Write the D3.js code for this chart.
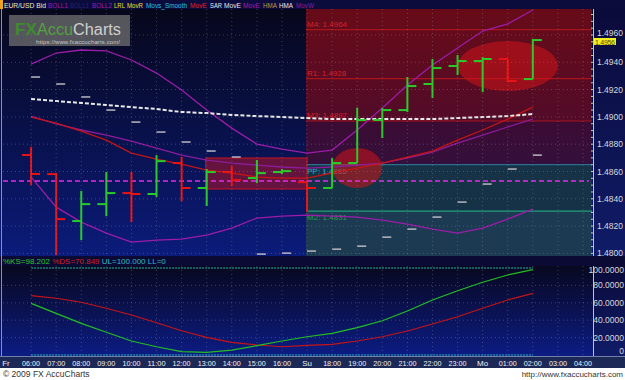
<!DOCTYPE html>
<html>
<head>
<meta charset="utf-8">
<script src="https://d3js.org/d3.v7.min.js"></script>
<style>
  body { margin: 0; background: #fff; }
  svg { display: block; font-family: "Liberation Sans", Arial, sans-serif; }
</style>
</head>
<body>
<svg id="chart" width="625" height="380"></svg>
<script>
// hourly slots on the time axis
var timeLabels = ["Fr","06:00","07:00","08:00","09:00","10:00","11:00","12:00","13:00","14:00","15:00","16:00",
                  "Su","18:00","19:00","20:00","21:00","22:00","23:00","Mo","01:00","02:00","03:00","04:00"];
var firstBar = 1; // first bar sits on 06:00

// EUR/USD hourly bars
var opens  = [1.48721,1.48581,1.48237,1.48361,1.48442,1.48435,1.48662,1.48479,1.48596,1.48552,1.48596,
              1.48522,1.48479,1.48662,1.48977,1.49050,1.49241,1.49373,1.49409,1.49424,1.49277];
var highs  = [1.48780,1.48589,1.48457,1.48596,1.48596,1.48720,1.48706,1.48618,1.48640,1.48684,1.48618,
              1.48522,1.48698,1.49068,1.49065,1.49292,1.49424,1.49453,1.49439,1.49424,1.49571];
var lows   = [1.48501,1.47987,1.48097,1.48273,1.48229,1.48413,1.48383,1.48347,1.48493,1.48515,1.48581,
              1.48303,1.48479,1.48662,1.48845,1.49036,1.49138,1.49307,1.49182,1.49255,1.49277];
var closes = [1.48582,1.48251,1.48361,1.48442,1.48435,1.48676,1.48479,1.48596,1.48537,1.48588,1.48603,
              1.48479,1.48662,1.48977,1.49050,1.49226,1.49358,1.49409,1.49424,1.49263,1.49563];

// indicators
var bollUpper = [1.49387,1.49468,1.49490,1.49483,1.49417,1.49321,1.49197,1.49050,1.48918,1.48801,1.48764,
                 1.48735,1.48757,1.48904,1.49065,1.49233,1.49380,1.49505,1.49629,1.49681,1.49783];
var bollMid   = [1.49006,1.48948,1.48904,1.48867,1.48823,1.48772,1.48720,1.48684,1.48662,1.48647,1.48633,
                 1.48625,1.48633,1.48647,1.48662,1.48698,1.48742,1.48808,1.48867,1.48926,1.48984];
var bollLower = [1.48559,1.48339,1.48229,1.48149,1.48083,1.48097,1.48105,1.48134,1.48185,1.48259,1.48273,
                 1.48281,1.48273,1.48266,1.48244,1.48215,1.48178,1.48149,1.48185,1.48251,1.48325];
var movE      = [1.48999,1.48955,1.48896,1.48830,1.48735,1.48691,1.48654,1.48610,1.48589,1.48559,1.48552,
                 1.48552,1.48589,1.48625,1.48662,1.48706,1.48750,1.48830,1.48904,1.48984,1.49072];
var movSlow   = [1.49131,1.49116,1.49102,1.49087,1.49072,1.49058,1.49036,1.49028,1.49014,1.49006,1.48999,
                 1.48992,1.48984,1.48984,1.48984,1.48984,1.48984,1.48992,1.48999,1.49006,1.49021];
var sar       = [1.49292,1.49241,1.49146,1.49050,1.48962,1.48889,1.48816,1.48750,1.48706,1.47995,1.48002,
                 1.48017,1.48031,1.48053,1.48119,1.48178,1.48266,1.48376,1.48508,1.48618,1.48720];
var flatLevel = 1.4853;

// pivot levels
var pivotNames  = ["M4","R1","M3","PP","M2"];
var pivotValues = [1.4964,1.4928,1.4897,1.4865,1.4831];
var pivotFrom = 12; // pivots start on Sunday

// highlighted areas
var boxSlots = [8, 12], boxPrices = [1.48472, 1.48699];
var ellipseSlots = [14, 20], ellipsePrices = [1.48626, 1.49373];

// stochastic
var pK = [59.4,47.9,36.4,26.1,16.1,9.5,3.8,3.1,5.7,10.7,16.1,21.0,24.9,31.4,39.4,50.6,63.2,73.9,83.6,92.0,98.202];
var pD = [68.2,65.2,60.6,53.7,46.0,37.1,27.9,20.3,14.6,11.5,9.5,11.1,12.3,16.1,21.0,27.6,35.6,44.0,53.7,63.2,70.849];

var priceTicks = [1.4800,1.4820,1.4840,1.4860,1.4880,1.4900,1.4920,1.4940,1.4960];
var oscTicks = [0,20,40,60,80,100];
var lastPrice = "1.4956";

// layout
var L = 3, R = 592, mainTop = 9, mainBot = 256, oscTop = 266, oscBot = 356, axisBot = 368;

var svg = d3.select("#chart");
var defs = svg.append("defs");

function vgrad(id, stops) {
    var g = defs.append("linearGradient").attr("id", id)
        .attr("x1", 0).attr("y1", 0).attr("x2", 0).attr("y2", 1);
    stops.forEach(function(s) { g.append("stop").attr("offset", s[0]).attr("stop-color", s[1]); });
}
vgrad("bgMain", [[0, "#07071b"], [1, "#0b1b7a"]]);
vgrad("bgOsc", [[0, "#08081f"], [1, "#0c1c84"]]);
vgrad("bgAxis", [[0, "#0b0b3a"], [1, "#101c68"]]);
vgrad("redZone", [[0, "#680b18"], [1, "#520b28"]]);
vgrad("purpleZone", [[0, "#3c0b32"], [1, "#34103c"]]);

defs.append("clipPath").attr("id", "clipMain").append("rect")
    .attr("x", L).attr("y", mainTop).attr("width", R - L).attr("height", mainBot - mainTop);

// scales
var x = d3.scalePoint().domain(d3.range(timeLabels.length)).range([6, 583]);
var y = d3.scaleLinear().domain([1.4800, 1.4960]).range([253.4, 35]);
var yo = d3.scaleLinear().domain([0, 100]).range([355, 268]);
var bx = function(i) { return x(i + firstBar); };

// backgrounds
svg.append("rect").attr("width", 625).attr("height", 380).attr("fill", "#fff");
svg.append("rect").attr("width", 625).attr("height", mainTop).attr("fill", "#0b0b3c");
svg.append("rect").attr("x", 0).attr("y", mainTop).attr("width", R + 1).attr("height", mainBot - mainTop).attr("fill", "url(#bgMain)");
svg.append("rect").attr("x", R + 1).attr("y", mainTop).attr("width", 625 - R).attr("height", mainBot - mainTop).attr("fill", "url(#bgAxis)");
svg.append("rect").attr("x", 0).attr("y", mainBot).attr("width", 625).attr("height", oscTop - mainBot).attr("fill", "#0a0a34");
svg.append("rect").attr("x", 0).attr("y", oscTop).attr("width", R + 1).attr("height", oscBot - oscTop).attr("fill", "url(#bgOsc)");
svg.append("rect").attr("x", R + 1).attr("y", oscTop).attr("width", 625 - R).attr("height", oscBot - oscTop).attr("fill", "url(#bgAxis)");
svg.append("rect").attr("x", 0).attr("y", oscBot).attr("width", 625).attr("height", axisBot - oscBot).attr("fill", "#1c2856");
svg.append("rect").attr("x", 0).attr("y", 0).attr("width", 3).attr("height", mainTop).attr("fill", "#f0a020");

var main = svg.append("g").attr("clip-path", "url(#clipMain)");

// pivot zones
var px0 = x(pivotFrom) - 1;
var zones = [
    [mainTop, y(pivotValues[2]), "url(#redZone)"],
    [y(pivotValues[2]), y(pivotValues[3]), "url(#purpleZone)"],
    [y(pivotValues[3]), y(pivotValues[4]), "#153246"],
    [y(pivotValues[4]), mainBot, "#1c3a52"]
];
main.selectAll(".zone").data(zones).enter().append("rect")
    .attr("x", px0).attr("y", function(d) { return d[0]; })
    .attr("width", R - px0).attr("height", function(d) { return d[1] - d[0]; })
    .attr("fill", function(d) { return d[2]; });

// grid
var grid = svg.append("g").attr("stroke", "#8a8aa0").attr("stroke-opacity", 0.4)
    .attr("stroke-dasharray", "1,3").attr("stroke-width", 1);
d3.range(1, timeLabels.length).forEach(function(i) {
    grid.append("line").attr("x1", x(i)).attr("x2", x(i)).attr("y1", mainTop).attr("y2", mainBot);
    grid.append("line").attr("x1", x(i)).attr("x2", x(i)).attr("y1", oscTop).attr("y2", oscBot);
});
priceTicks.forEach(function(p) {
    grid.append("line").attr("x1", L).attr("x2", R).attr("y1", y(p)).attr("y2", y(p));
});
oscTicks.slice(1, -1).forEach(function(v) {
    grid.append("line").attr("x1", L).attr("x2", R).attr("y1", yo(v)).attr("y2", yo(v));
});

// pivot lines and labels
var pivotColors = ["#a8141e", "#a8141e", "#a8141e", "#2c6e8c", "#1fa07a"];
var labelColors = ["#d8202a", "#d8202a", "#d8202a", "#3aa8c8", "#2a9a50"];
pivotValues.forEach(function(v, i) {
    main.append("line").attr("x1", px0).attr("x2", R).attr("y1", y(v)).attr("y2", y(v))
        .attr("stroke", pivotColors[i]).attr("stroke-width", 1.2);
    var below = i >= 3;
    main.append("text").attr("x", px0 + 1).attr("y", y(v) + (below ? 9 : -3))
        .attr("font-size", 8).attr("fill", labelColors[i])
        .text(pivotNames[i] + ": " + v.toFixed(4));
});

// highlighted areas
main.append("rect")
    .attr("x", x(boxSlots[0]) - 1).attr("y", y(boxPrices[1]))
    .attr("width", x(boxSlots[1]) - x(boxSlots[0]) + 1).attr("height", y(boxPrices[0]) - y(boxPrices[1]))
    .attr("fill", "#b0142a").attr("fill-opacity", 0.55).attr("stroke", "#c8141e").attr("stroke-width", 1);
var eR = [[25, 20], [50, 25]];
ellipseSlots.forEach(function(s, i) {
    main.append("ellipse").attr("cx", x(s)).attr("cy", y(ellipsePrices[i]))
        .attr("rx", eR[i][0]).attr("ry", eR[i][1])
        .attr("fill", "#d01418").attr("fill-opacity", 0.55);
});

// indicator lines
function drawLine(vals, color, width, dash) {
    var p = main.append("path").datum(vals)
        .attr("fill", "none").attr("stroke", color).attr("stroke-width", width)
        .attr("d", d3.line().x(function(d, i) { return bx(i); }).y(function(d) { return y(d); }));
    if (dash) p.attr("stroke-dasharray", dash);
}
drawLine(bollUpper, "#9c1ca8", 1.3);
drawLine(bollMid, "#8c1c9c", 1.3);
drawLine(bollLower, "#9c1ca8", 1.3);
drawLine(movE, "#c41414", 1.3);
drawLine(movSlow, "#e8e8e8", 2, "4,2");

main.append("line").attr("x1", L).attr("x2", R - 3).attr("y1", y(flatLevel)).attr("y2", y(flatLevel))
    .attr("stroke", "#e828e8").attr("stroke-width", 1.5).attr("stroke-dasharray", "5,3");

// SAR marks
main.selectAll(".sar").data(sar).enter().append("line")
    .attr("x1", function(d, i) { return bx(i); }).attr("x2", function(d, i) { return bx(i) + 9; })
    .attr("y1", function(d) { return y(d); }).attr("y2", function(d) { return y(d); })
    .attr("stroke", "#b8b8c0").attr("stroke-width", 1.5);

// OHLC bars
var bars = main.selectAll(".bar").data(opens).enter().append("g")
    .attr("stroke", function(d, i) { return closes[i] >= opens[i] ? "#28cc28" : "#e81414"; })
    .attr("stroke-width", 2);
bars.append("line").attr("x1", function(d, i) { return bx(i); }).attr("x2", function(d, i) { return bx(i); })
    .attr("y1", function(d, i) { return y(highs[i]); }).attr("y2", function(d, i) { return y(lows[i]); });
bars.append("line").attr("x1", function(d, i) { return bx(i) - 9; }).attr("x2", function(d, i) { return bx(i); })
    .attr("y1", function(d) { return y(d); }).attr("y2", function(d) { return y(d); });
bars.append("line").attr("x1", function(d, i) { return bx(i); }).attr("x2", function(d, i) { return bx(i) + 9; })
    .attr("y1", function(d, i) { return y(closes[i]); }).attr("y2", function(d, i) { return y(closes[i]); });

// logo
svg.append("rect").attr("x", 9).attr("y", 15).attr("width", 121).attr("height", 31)
    .attr("fill", "#707070").attr("fill-opacity", 0.75);
svg.append("text").attr("x", 15).attr("y", 35).attr("font-size", 16).attr("font-weight", "bold")
    .attr("fill", "#3f8c2e").attr("textLength", 22).attr("lengthAdjust", "spacingAndGlyphs").text("FX");
svg.append("text").attr("x", 37).attr("y", 35).attr("font-size", 16)
    .attr("fill", "#55a040").attr("textLength", 36).attr("lengthAdjust", "spacingAndGlyphs").text("Accu");
svg.append("text").attr("x", 73).attr("y", 35).attr("font-size", 16)
    .attr("fill", "#cfcfcf").attr("textLength", 48).attr("lengthAdjust", "spacingAndGlyphs").text("Charts");
svg.append("text").attr("x", 36).attr("y", 44).attr("font-size", 6).attr("fill", "#c8c8c8")
    .attr("textLength", 84).text("https://www.fxaccucharts.com/");

// header legend
var legend = [["EUR/USD Bid", "#f0e8b0", 4, 42], ["BOLL1", "#a01ca8", 48, 20], ["BOLL1", "#24246a", 70, 19],
              ["BOLL2", "#a01ca8", 92, 20], ["LRL", "#e8e020", 114, 11], ["MovR", "#e8e020", 127, 16],
              ["Movs_Smooth", "#28c0e8", 146, 41], ["MovE", "#e82020", 190, 17], ["SAR", "#e8e8e8", 210, 12],
              ["MovE", "#e8e8e8", 224, 17], ["MovE", "#a01ca8", 243, 17], ["HMA", "#b0a040", 263, 14],
              ["HMA", "#e8e8e8", 279, 14], ["MovW", "#8a2098", 296, 18]];
legend.forEach(function(d) {
    svg.append("text").attr("x", d[2]).attr("y", 7.5).attr("font-size", 6.4).attr("fill", d[1])
        .attr("textLength", d[3]).attr("lengthAdjust", "spacingAndGlyphs").text(d[0]);
});

// left edge
svg.append("line").attr("x1", 1.5).attr("x2", 1.5).attr("y1", mainTop).attr("y2", oscBot)
    .attr("stroke", "#9090a8").attr("stroke-width", 1);

// right price axis
svg.append("line").attr("x1", R + 1.5).attr("x2", R + 1.5).attr("y1", mainTop).attr("y2", mainBot)
    .attr("stroke", "#c8c8a0");
d3.range(1.4800, 1.4980, 0.0005).forEach(function(p) {
    if (y(p) < mainTop) return;
    svg.append("line").attr("x1", R - 1).attr("x2", R + 1).attr("y1", y(p)).attr("y2", y(p))
        .attr("stroke", "#c8c8a0");
});
svg.selectAll(".ptick").data(priceTicks).enter().append("text")
    .attr("x", 623).attr("y", function(d) { return y(d) + (d === 1.4960 ? 1 : 3); })
    .attr("text-anchor", "end").attr("font-size", 8.5).attr("fill", "#d8d8d8")
    .text(function(d) { return d.toFixed(4); });
svg.append("rect").attr("x", 594).attr("y", 38).attr("width", 22).attr("height", 7).attr("fill", "#f0f020");
svg.append("text").attr("x", 595).attr("y", 44.5).attr("font-size", 7).attr("fill", "#505000")
    .attr("textLength", 20).text(lastPrice);

// stochastic panel
svg.append("text").attr("x", 3).attr("y", 264).attr("font-size", 8)
    .call(function(t) {
        t.append("tspan").attr("fill", "#28c828").text("%KS=" + pK[pK.length - 1].toFixed(3) + " ");
        t.append("tspan").attr("fill", "#d82020").text("%DS=" + pD[pD.length - 1].toFixed(3) + " ");
        t.append("tspan").attr("fill", "#30b8c8").text("UL=100.000 LL=0");
    });
[100, 0].forEach(function(v) {
    svg.append("line").attr("x1", bx(0)).attr("x2", bx(pK.length - 1)).attr("y1", yo(v)).attr("y2", yo(v))
        .attr("stroke", "#20b8b8").attr("stroke-width", 1.2).attr("stroke-dasharray", "2,1");
});
var oscLine = d3.line().x(function(d, i) { return bx(i); }).y(function(d) { return yo(d); });
svg.append("path").datum(pD).attr("fill", "none").attr("stroke", "#c81414").attr("stroke-width", 1.2).attr("d", oscLine);
svg.append("path").datum(pK).attr("fill", "none").attr("stroke", "#22c022").attr("stroke-width", 1.2).attr("d", oscLine);

svg.append("line").attr("x1", R + 1.5).attr("x2", R + 1.5).attr("y1", oscTop).attr("y2", oscBot)
    .attr("stroke", "#c8c8a0");
svg.selectAll(".otick").data(oscTicks).enter().append("text")
    .attr("x", 624).attr("y", function(d) { return Math.min(Math.max(yo(d) + 3, oscTop + 7), oscBot - 2); })
    .attr("text-anchor", "end").attr("font-size", 8.5).attr("fill", "#d8d8d8")
    .text(function(d) { return d === 0 ? "0" : d.toFixed(4); });

// time axis
svg.append("line").attr("x1", 0).attr("x2", 625).attr("y1", oscBot + 0.5).attr("y2", oscBot + 0.5)
    .attr("stroke", "#7080a8");
svg.selectAll(".tlabel").data(timeLabels).enter().append("text")
    .attr("x", function(d, i) { return x(i); }).attr("y", 366)
    .attr("text-anchor", "middle").attr("font-size", 8).attr("fill", "#f0f0f0")
    .attr("textLength", function(d) { return d.length > 2 ? 18 : null; })
    .attr("lengthAdjust", "spacingAndGlyphs")
    .text(function(d) { return d; });

// footer
svg.append("text").attr("x", 3).attr("y", 377).attr("font-size", 8.5).attr("fill", "#333").text("\u00a9 2009 FX AccuCharts");
svg.append("text").attr("x", 623).attr("y", 377).attr("text-anchor", "end").attr("font-size", 8).attr("fill", "#333")
    .text("http://www.fxaccucharts.com");
</script>
</body>
</html>
